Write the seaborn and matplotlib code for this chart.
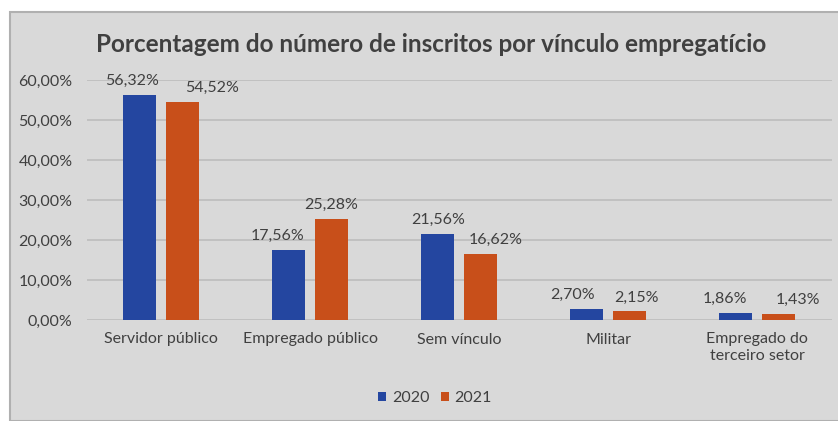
"""
Porcentagem do número de inscritos por vínculo empregatício (2020 x 2021)
"""

import matplotlib
matplotlib.use('Agg')
import matplotlib.pyplot as plt
from matplotlib.patches import Rectangle
import pandas as pd
import seaborn as sns

# Data
categorias = ['Servidor público', 'Empregado público', 'Sem vínculo',
              'Militar', 'Empregado do\nterceiro setor']
valores_2020 = [56.32, 17.56, 21.56, 2.70, 1.86]
valores_2021 = [54.52, 25.28, 16.62, 2.15, 1.43]
anos = ['2020', '2021']
ticks_y = [0, 10, 20, 30, 40, 50, 60]

# Label nudges (px) as placed in the original chart
nudge_2020 = [-7, -11, 0, -14, -11]
nudge_2021 = [30, 0, 15, 7, 19]

df = pd.DataFrame({
    'categoria': categorias * 2,
    'valor': valores_2020 + valores_2021,
    'ano': [anos[0]] * len(categorias) + [anos[1]] * len(categorias),
})

sns.set_theme(style='white')
plt.rcParams['font.family'] = ['Lato', 'DejaVu Sans']

BG = '#d9d9d9'
TXT = '#404040'
cores = {'2020': '#2446a0', '2021': '#c84f1a'}

W, H = 838, 421
fig = plt.figure(figsize=(W / 100, H / 100), dpi=100, facecolor='white')

# Chart area background with border
fig.patches.append(Rectangle((10 / W, 0), 1, 1 - 12 / H, transform=fig.transFigure,
                             facecolor=BG, edgecolor='#b0b0b0', linewidth=1.5,
                             zorder=-10))

ax = fig.add_axes([86.5 / W, (H - 320) / H, (831.8 - 86.5) / W, 240 / H])
ax.set_facecolor(BG)
ax.patch.set_alpha(0)

sns.barplot(data=df, x='categoria', y='valor', hue='ano', palette=cores,
            width=0.577, gap=0.233, ax=ax, legend=True, saturation=1,
            linewidth=0)

ax.set_ylim(0, 60)
ax.set_yticks(ticks_y)
ax.set_yticklabels([f'{t:.2f}%'.replace('.', ',') for t in ticks_y],
                   fontsize=11.5, color=TXT)
ax.tick_params(axis='y', length=0, pad=10)
ax.tick_params(axis='x', length=0, pad=9, labelsize=11.5, labelcolor=TXT)
ax.set_xlabel('')
ax.set_ylabel('')
ax.grid(axis='y', color='#bdbdbd', linewidth=1.2)
ax.set_axisbelow(True)
for s in ax.spines.values():
    s.set_visible(False)

# Data labels
for cont, nudges in zip(ax.containers, [nudge_2020, nudge_2021]):
    for bar, nx in zip(cont, nudges):
        v = bar.get_height()
        ax.annotate(f'{v:.2f}%'.replace('.', ','),
                    (bar.get_x() + bar.get_width() / 2, v),
                    xytext=(nx * 0.72, 5), textcoords='offset points',
                    ha='center', va='bottom', fontsize=11.5, color=TXT,
                    annotation_clip=False)

# Legend
leg = ax.legend(loc='center', bbox_to_anchor=(435 / W, (H - 398) / H),
                bbox_transform=fig.transFigure, ncol=2, frameon=False,
                fontsize=11.5, handlelength=0.5, handleheight=0.5,
                handletextpad=0.35, columnspacing=0.7)
for t in leg.get_texts():
    t.set_color(TXT)

fig.text(431 / W, (H - 44) / H,
         'Porcentagem do número de inscritos por vínculo empregatício',
         ha='center', va='center', fontsize=17.5, fontweight='bold', color=TXT)

fig.savefig('out.png', dpi=100, facecolor='white')
